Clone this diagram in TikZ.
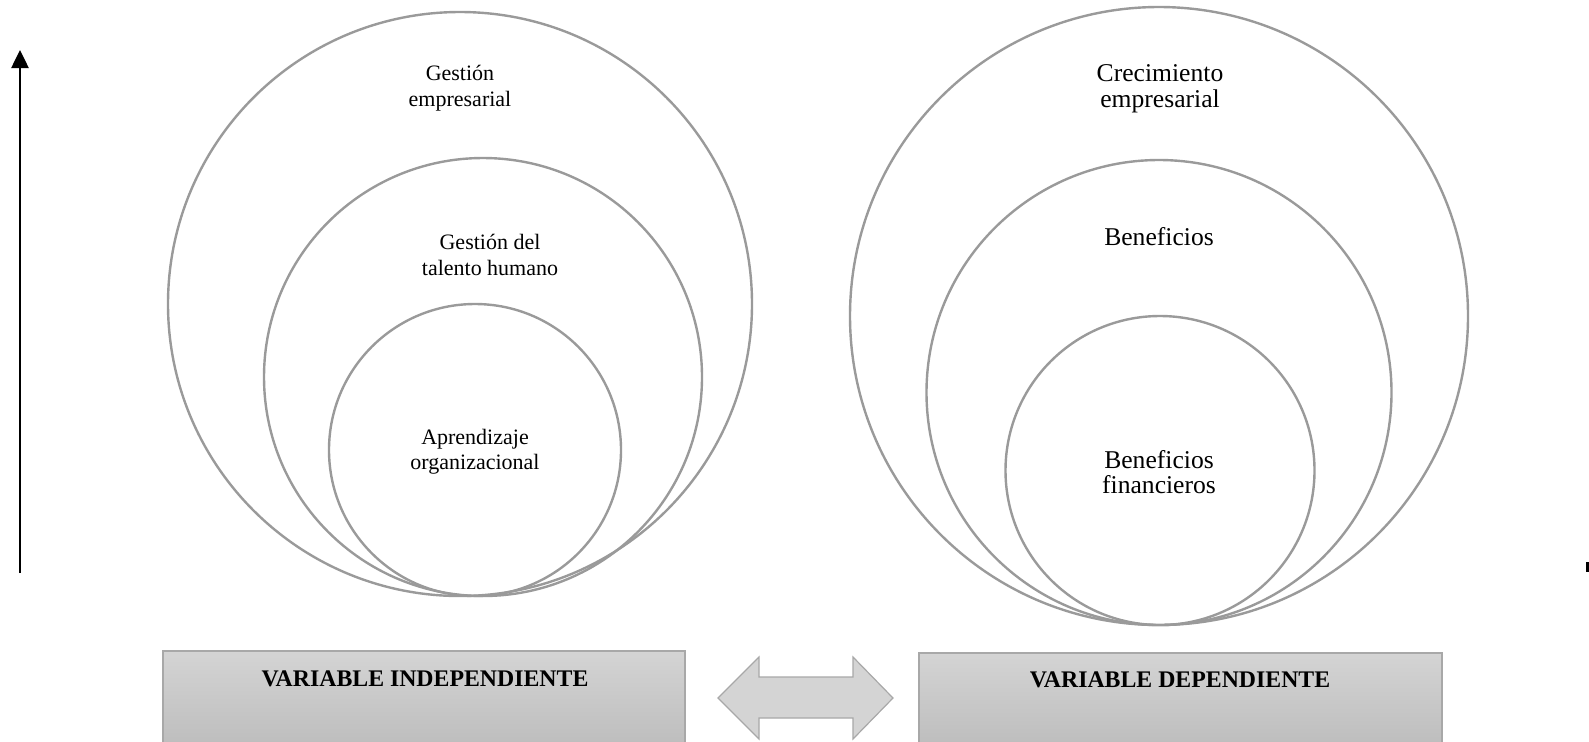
\documentclass[tikz,border=0pt]{standalone}
\usepackage{fontspec}
\setmainfont{Liberation Serif}
\usetikzlibrary{arrows.meta}
\definecolor{ringgray}{HTML}{9A9A9A}
\definecolor{boxtop}{HTML}{D4D4D4}
\definecolor{boxbot}{HTML}{BEBEBE}
\definecolor{boxline}{HTML}{A8A8A8}
\begin{document}
\begin{tikzpicture}[x=0.5pt,y=-0.5pt,
  ring/.style={circle,draw=ringgray,line width=1.2pt,inner sep=0pt},
  ltxt/.style={align=center,font=\fontsize{11}{12.7}\selectfont},
  rtxt/.style={align=center,font=\fontsize{12.8}{12.9}\selectfont},
  varbox/.style={rectangle,draw=boxline,line width=0.8pt,top color=boxtop,bottom color=boxbot,inner sep=0pt,anchor=north west},
  vartxt/.style={font=\fontsize{11.9}{14}\bfseries\selectfont},
  blockarrow/.style={draw=boxline,line width=0.6pt,fill=boxtop}]
\useasboundingbox (0,0) rectangle (1589,741);
% left circles
\node[ring,minimum size=292pt] (lbig) at (460,304) {};
\node[ring,minimum size=219pt] (lmid) at (483,377) {};
\node[ring,minimum size=146pt] (lsmall) at (475,450) {};
% right circles
\node[ring,minimum size=309pt] (rbig) at (1159,316) {};
\node[ring,minimum size=232.5pt] (rmid) at (1159,392.5) {};
\node[ring,minimum size=154.5pt] (rsmall) at (1160,470.5) {};
% texts
\node[ltxt] (t1) at (460,88) {Gestión\\empresarial};
\node[ltxt] (t2) at (490,255) {Gestión del\\talento humano};
\node[ltxt] (t3) at (475,452) {Aprendizaje\\organizacional};
\node[rtxt] (t4) at (1160,89) {Crecimiento\\empresarial};
\node[rtxt] (t5) at (1159,237) {Beneficios};
\node[rtxt] (t6) at (1159,472) {Beneficios\\financieros};
% boxes
\node[varbox,minimum width=261pt,minimum height=46pt] (vi) at (162,650) {};
\node[varbox,minimum width=261.5pt,minimum height=45pt] (vd) at (918,652) {};
\node[vartxt] (vit) at (425,679) {VARIABLE INDEPENDIENTE};
\node[vartxt] (vdt) at (1180,680) {VARIABLE DEPENDIENTE};
% double block arrow
\draw[blockarrow] (718,698) -- (759,657) -- (759,677) -- (853,677) -- (853,657) -- (893,698)
  -- (853,739) -- (853,718) -- (759,718) -- (759,739) -- cycle;
% vertical arrow
\coordinate (abot) at (20,573);
\coordinate (atop) at (20,50);
\draw[line width=1.3pt,-{Triangle[width=8.5pt,length=9pt]}] (abot) -- (atop);
% clipped mark at right edge
\coordinate (m1) at (1587.5,562);
\coordinate (m2) at (1587.5,572);
\draw[line width=1.3pt] (m1) -- (m2);
\end{tikzpicture}
\end{document}
